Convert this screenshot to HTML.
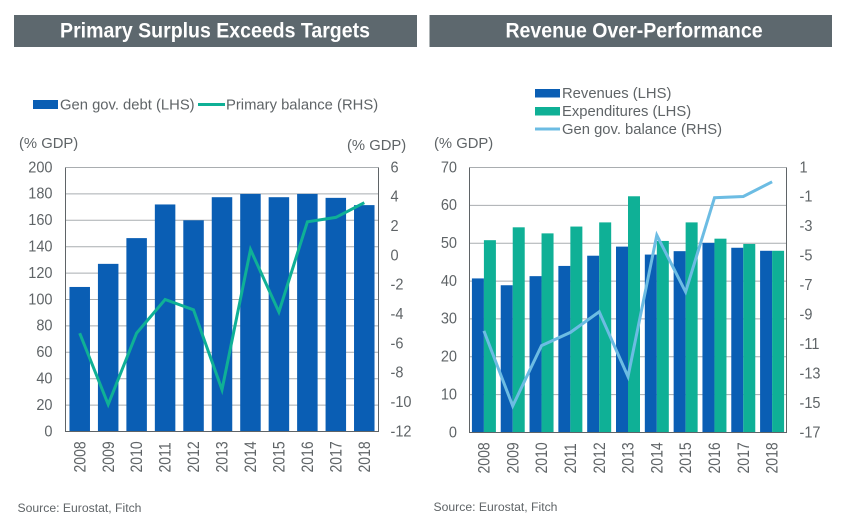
<!DOCTYPE html>
<html lang="en">
<head>
<meta charset="utf-8">
<title>Primary Surplus and Revenue Charts</title>
<style>
html,body{margin:0;padding:0;background:#fff;}
body{width:858px;height:527px;overflow:hidden;}
svg{display:block;font-family:"Liberation Sans",Arial,sans-serif;}
text{fill:#5f6467;font-size:14.8px;}
</style>
</head>
<body>
<svg id="chart" width="858" height="527" viewBox="0 0 858 527" xmlns="http://www.w3.org/2000/svg"></svg>
<script>
const years = ['2008','2009','2010','2011','2012','2013','2014','2015','2016','2017','2018'];
const debtValues = [109.5,127,146.5,172,160,177.5,180,177.5,180,177,171.5];
const primaryBalance = [-5.3,-10.15,-5.3,-3,-3.7,-9.15,0.4,-3.85,2.3,2.6,3.6];
const leftLhsTicks = [0,20,40,60,80,100,120,140,160,180,200];
const leftRhsTicks = [-12,-10,-8,-6,-4,-2,0,2,4,6];
const revenues = [40.7,38.9,41.3,44,46.7,49.1,47,47.9,50.1,48.8,48];
const expenditures = [50.8,54.2,52.6,54.4,55.5,62.4,50.6,55.5,51.2,49.8,48];
const govBalance = [-10.1,-15.2,-11.1,-10.2,-8.8,-13.2,-3.6,-7.45,-1.05,-0.97,0.03];
const rightLhsTicks = [0,10,20,30,40,50,60,70];
const rightRhsTicks = [-17,-15,-13,-11,-9,-7,-5,-3,-1,1];

const NS = 'http://www.w3.org/2000/svg';
const root = document.getElementById('chart');
const BLUE = '#0a5eb4', GREEN = '#0fb096', LIGHT = '#6cbce3', GRID = '#a9adb0', AXIS = '#5f6467';
const TICK_STYLE = 'font-size:16px';

function make(tag, attrs, parent, txt){
  const el = document.createElementNS(NS, tag);
  for (const k in attrs) el.setAttribute(k, attrs[k]);
  if (txt !== undefined) el.textContent = txt;
  (parent || root).appendChild(el);
  return el;
}
function scale(d0, d1, r0, r1){
  return v => r0 + (v - d0) * (r1 - r0) / (d1 - d0);
}
function group(name, parent){
  const g = make('g', {}, parent || root);
  
  
  return g;
}
function label(name, parent, attrs, txt){
  const t = make('text', attrs, parent, txt);
  
  
  return t;
}

function header(name, x, w, center, txt){
  const g = group(name);
  const r = make('rect', {x:x, y:15, width:w, height:32, fill:'#5d686e'}, g);
  
  
  return label(name + '-text', g, {transform:`translate(${center},37.5) scale(0.93,1)`, 'text-anchor':'middle', style:'fill:#fff;font-size:21px;font-weight:bold'}, txt);
}

function frame(name, box, lhsTicks, rhsTicks, yL, yR, lhsX, rhsX){
  const g = group(name + '-axes');
  lhsTicks.forEach(v => {
    const y = yL(v);
    if (v !== lhsTicks[0]) {
      const gl = make('line', {x1:box.x0, x2:box.x1, y1:y, y2:y, stroke:GRID, 'stroke-width':1}, g);
      
      
    }
    label(name + '-lhs-tick', g, {transform:`translate(${lhsX},${y + 4.8}) scale(0.91,1)`, 'text-anchor':'end', style:TICK_STYLE}, String(v));
  });
  rhsTicks.forEach(v => {
    label(name + '-rhs-tick', g, {transform:`translate(${rhsX},${yR(v) + 4.8}) scale(0.91,1)`, 'text-anchor':'start', style:TICK_STYLE}, String(v));
  });
  return g;
}
function frameLines(name, box){
  const g = group(name + '-axis-lines');
  const a = make('path', {d:`M${box.x0} ${box.y0}V${box.y1}H${box.x1}V${box.y0}`, fill:'none', stroke:AXIS, 'stroke-width':1}, g);
  
  
}
function yearLabels(name, box, band){
  const g = group(name + '-x-axis');
  years.forEach((yr, i) => {
    const cx = box.x0 + band * (i + 0.5);
    label(name + '-year-label', g, {transform:`translate(${cx + 5.6},${box.y1 + 41}) rotate(-90) scale(0.85,1)`, style:'font-size:16.5px'}, yr);
  });
}
function polyline(name, values, box, band, yR, color){
  const pts = values.map((v, i) => (box.x0 + band * (i + 0.5)).toFixed(1) + ',' + yR(v).toFixed(1)).join(' ');
  const p = make('polyline', {points:pts, fill:'none', stroke:color, 'stroke-width':3, 'stroke-linejoin':'miter'});
  
  
}

header('left-chart-title', 14, 403, 215, 'Primary Surplus Exceeds Targets');
header('right-chart-title', 429.5, 402.5, 634, 'Revenue Over-Performance');

/* Left chart */
const boxL = {x0:65.5, x1:378.5, y0:167.5, y1:431.5};
const bandL = (boxL.x1 - boxL.x0) / years.length;
const yL1 = scale(0, 200, boxL.y1, boxL.y0);
const yL2 = scale(-12, 6, boxL.y1, boxL.y0);
frame('left-chart', boxL, leftLhsTicks, leftRhsTicks, yL1, yL2, 52.5, 390.5);
const debtBars = group('debt-bars');
debtValues.forEach((v, i) => {
  const w = 20.5;
  const b = make('rect', {x:boxL.x0 + bandL * (i + 0.5) - w/2, y:yL1(v), width:w, height:yL1(0) - yL1(v), fill:BLUE}, debtBars);
  
  
});
frameLines('left-chart', boxL);
polyline('primary-balance-line', primaryBalance, boxL, bandL, yL2, GREEN);
yearLabels('left-chart', boxL, bandL);
label('left-lhs-unit', root, {x:19, y:148}, '(% GDP)');
label('left-rhs-unit', root, {x:347, y:150}, '(% GDP)');
const legL = group('left-legend');
const s1 = make('rect', {x:33, y:100, width:25, height:9, fill:BLUE}, legL);


label('debt-legend-label', legL, {x:60, y:109.5}, 'Gen gov. debt (LHS)');
const s2 = make('line', {x1:198, x2:225, y1:104.5, y2:104.5, stroke:GREEN, 'stroke-width':3}, legL);


label('primary-balance-legend-label', legL, {x:226, y:109.5}, 'Primary balance (RHS)');
label('left-source', root, {x:17.5, y:512, style:'font-size:12.2px'}, 'Source: Eurostat, Fitch');

/* Right chart */
const boxR = {x0:469.5, x1:786.5, y0:167.5, y1:432.5};
const bandR = (boxR.x1 - boxR.x0) / years.length;
const yR1 = scale(0, 70, boxR.y1, boxR.y0);
const yR2 = scale(-17, 1, boxR.y1, boxR.y0);
frame('right-chart', boxR, rightLhsTicks, rightRhsTicks, yR1, yR2, 457, 799.5);
const revBars = group('revenue-bars');
const expBars = group('expenditure-bars');
years.forEach((yr, i) => {
  const w = 12, cx = boxR.x0 + bandR * (i + 0.5);
  const a = make('rect', {x:cx - w, y:yR1(revenues[i]), width:w, height:yR1(0) - yR1(revenues[i]), fill:BLUE}, revBars);
  
  
  const b = make('rect', {x:cx, y:yR1(expenditures[i]), width:w, height:yR1(0) - yR1(expenditures[i]), fill:GREEN}, expBars);
  
  
});
frameLines('right-chart', boxR);
polyline('gen-gov-balance-line', govBalance, boxR, bandR, yR2, LIGHT);
yearLabels('right-chart', boxR, bandR);
label('right-lhs-unit', root, {x:434, y:148}, '(% GDP)');
const legR = group('right-legend');
const s3 = make('rect', {x:535, y:89, width:25, height:8.5, fill:BLUE}, legR);


label('revenues-legend-label', legR, {x:562, y:98}, 'Revenues (LHS)');
const s4 = make('rect', {x:535, y:107, width:25, height:8.5, fill:GREEN}, legR);


label('expenditures-legend-label', legR, {x:562, y:116}, 'Expenditures (LHS)');
const s5 = make('line', {x1:535, x2:560, y1:129, y2:129, stroke:LIGHT, 'stroke-width':3}, legR);


label('gen-gov-balance-legend-label', legR, {x:562, y:134}, 'Gen gov. balance (RHS)');
label('right-source', root, {x:433.5, y:511, style:'font-size:12.2px'}, 'Source: Eurostat, Fitch');
</script>
</body>
</html>
